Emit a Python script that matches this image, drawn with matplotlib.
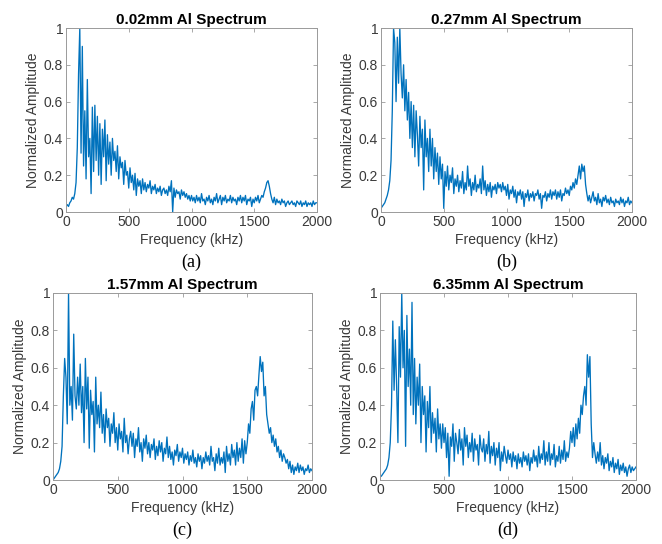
import numpy as np
import matplotlib
matplotlib.use("Agg")
import matplotlib.pyplot as plt

# frequency grid, kHz
freq_khz = np.arange(0, 2001, 10)

# normalized amplitude (one value per 10 kHz)
amp_002mm = [
    0.03, 0.04, 0.03, 0.05, 0.06, 0.08, 0.07, 0.10, 0.16, 0.35,
    0.75, 1.00, 0.32, 0.90, 0.25, 0.55, 0.18, 0.72, 0.30, 0.40,
    0.10, 0.57, 0.22, 0.58, 0.28, 0.52, 0.20, 0.48, 0.15, 0.45,
    0.30, 0.50, 0.17, 0.42, 0.26, 0.38, 0.20, 0.40, 0.28, 0.33,
    0.22, 0.36, 0.18, 0.30, 0.24, 0.27, 0.15, 0.28, 0.20, 0.22,
    0.13, 0.24, 0.16, 0.20, 0.12, 0.21, 0.09, 0.18, 0.14, 0.17,
    0.10, 0.18, 0.12, 0.16, 0.11, 0.15, 0.13, 0.17, 0.10, 0.14,
    0.12, 0.15, 0.10, 0.13, 0.11, 0.14, 0.09, 0.12, 0.13, 0.10,
    0.12, 0.09, 0.14, 0.11, 0.17, 0.00, 0.13, 0.08, 0.12, 0.10,
    0.11, 0.07, 0.12, 0.09, 0.11, 0.08, 0.10, 0.07, 0.09, 0.06,
    0.09, 0.06, 0.08, 0.05, 0.09, 0.06, 0.08, 0.05, 0.10, 0.06,
    0.07, 0.04, 0.08, 0.06, 0.09, 0.05, 0.07, 0.04, 0.08, 0.06,
    0.10, 0.05, 0.07, 0.09, 0.04, 0.08, 0.06, 0.09, 0.05, 0.07,
    0.06, 0.09, 0.05, 0.08, 0.06, 0.07, 0.04, 0.08, 0.06, 0.09,
    0.05, 0.08, 0.06, 0.09, 0.04, 0.07, 0.06, 0.08, 0.03, 0.07,
    0.05, 0.08, 0.06, 0.09, 0.05, 0.07, 0.09, 0.08, 0.11, 0.13,
    0.16, 0.17, 0.14, 0.10, 0.07, 0.05, 0.08, 0.04, 0.07, 0.05,
    0.06, 0.04, 0.07, 0.05, 0.06, 0.03, 0.05, 0.06, 0.04, 0.05,
    0.06, 0.04, 0.05, 0.03, 0.06, 0.05, 0.04, 0.06, 0.03, 0.05,
    0.04, 0.06, 0.03, 0.05, 0.04, 0.05, 0.03, 0.06, 0.04, 0.05,
    0.05,
]

amp_027mm = [
    0.02, 0.03, 0.04, 0.05, 0.07, 0.09, 0.12, 0.17, 0.28, 0.55,
    1.00, 0.92, 0.60, 0.95, 0.70, 1.00, 0.75, 0.62, 0.80, 0.55,
    0.72, 0.50, 0.65, 0.40, 0.60, 0.35, 0.58, 0.30, 0.55, 0.42,
    0.25, 0.52, 0.35, 0.45, 0.12, 0.50, 0.30, 0.40, 0.22, 0.45,
    0.25, 0.40, 0.18, 0.35, 0.22, 0.32, 0.15, 0.30, 0.18, 0.26,
    0.02, 0.22, 0.14, 0.25, 0.12, 0.20, 0.16, 0.24, 0.10, 0.18,
    0.14, 0.20, 0.11, 0.17, 0.13, 0.22, 0.10, 0.16, 0.12, 0.25,
    0.14, 0.18, 0.09, 0.16, 0.12, 0.20, 0.11, 0.15, 0.13, 0.18,
    0.10, 0.25, 0.12, 0.17, 0.09, 0.15, 0.11, 0.16, 0.08, 0.14,
    0.12, 0.15, 0.10, 0.16, 0.13, 0.15, 0.11, 0.16, 0.12, 0.14,
    0.09, 0.15, 0.07, 0.12, 0.10, 0.14, 0.08, 0.12, 0.05, 0.11,
    0.09, 0.12, 0.07, 0.11, 0.03, 0.10, 0.08, 0.12, 0.06, 0.10,
    0.08, 0.11, 0.06, 0.10, 0.09, 0.12, 0.07, 0.10, 0.02, 0.09,
    0.08, 0.11, 0.06, 0.10, 0.08, 0.12, 0.07, 0.11, 0.09, 0.12,
    0.07, 0.11, 0.08, 0.12, 0.06, 0.10, 0.09, 0.13, 0.10, 0.12,
    0.09, 0.14, 0.12, 0.16, 0.13, 0.18, 0.15, 0.20, 0.25, 0.18,
    0.26, 0.22, 0.25, 0.15, 0.10, 0.06, 0.09, 0.05, 0.08, 0.11,
    0.06, 0.08, 0.04, 0.10, 0.05, 0.07, 0.03, 0.08, 0.06, 0.09,
    0.05, 0.07, 0.04, 0.08, 0.05, 0.06, 0.03, 0.07, 0.05, 0.06,
    0.04, 0.08, 0.05, 0.07, 0.03, 0.06, 0.05, 0.08, 0.04, 0.06,
    0.05,
]

amp_157mm = [
    0.00, 0.01, 0.02, 0.03, 0.04, 0.06, 0.10, 0.18, 0.45, 0.65,
    0.55, 0.30, 1.00, 0.40, 0.50, 0.32, 0.78, 0.45, 0.38, 0.55,
    0.40, 0.62, 0.36, 0.50, 0.20, 0.65, 0.38, 0.55, 0.17, 0.48,
    0.35, 0.42, 0.15, 0.55, 0.30, 0.40, 0.28, 0.47, 0.25, 0.35,
    0.20, 0.38, 0.28, 0.33, 0.18, 0.30, 0.25, 0.36, 0.20, 0.28,
    0.16, 0.30, 0.22, 0.26, 0.15, 0.33, 0.20, 0.24, 0.14, 0.22,
    0.26, 0.18, 0.25, 0.12, 0.22, 0.18, 0.28, 0.15, 0.20, 0.10,
    0.22, 0.17, 0.24, 0.14, 0.20, 0.12, 0.19, 0.16, 0.22, 0.11,
    0.18, 0.13, 0.21, 0.15, 0.20, 0.10, 0.17, 0.14, 0.23, 0.12,
    0.18, 0.11, 0.15, 0.08, 0.16, 0.13, 0.19, 0.10, 0.15, 0.12,
    0.17, 0.09, 0.14, 0.11, 0.15, 0.08, 0.13, 0.10, 0.16, 0.09,
    0.12, 0.07, 0.14, 0.10, 0.13, 0.06, 0.12, 0.09, 0.15, 0.10,
    0.13, 0.08, 0.18, 0.10, 0.12, 0.05, 0.14, 0.09, 0.17, 0.08,
    0.12, 0.09, 0.15, 0.04, 0.18, 0.10, 0.14, 0.08, 0.19, 0.12,
    0.16, 0.08, 0.20, 0.10, 0.17, 0.12, 0.22, 0.09, 0.21, 0.14,
    0.20, 0.30, 0.25, 0.38, 0.42, 0.32, 0.48, 0.50, 0.45, 0.56,
    0.66, 0.58, 0.63, 0.45, 0.50, 0.35, 0.30, 0.25, 0.28, 0.20,
    0.24, 0.18, 0.22, 0.15, 0.18, 0.12, 0.16, 0.10, 0.14, 0.12,
    0.09, 0.11, 0.06, 0.10, 0.04, 0.08, 0.03, 0.07, 0.05, 0.09,
    0.04, 0.08, 0.05, 0.07, 0.03, 0.06, 0.05, 0.08, 0.04, 0.06,
    0.05,
]

amp_635mm = [
    0.02, 0.02, 0.03, 0.04, 0.05, 0.06, 0.08, 0.12, 0.20, 0.40,
    0.85, 0.48, 0.75, 0.50, 0.20, 0.82, 0.55, 1.00, 0.60, 0.80,
    0.18, 0.88, 0.50, 0.70, 0.40, 0.95, 0.35, 0.65, 0.30, 0.55,
    0.40, 0.62, 0.20, 0.50, 0.35, 0.45, 0.15, 0.42, 0.28, 0.50,
    0.20, 0.36, 0.25, 0.33, 0.15, 0.38, 0.22, 0.30, 0.17, 0.30,
    0.20, 0.28, 0.12, 0.25, 0.02, 0.23, 0.18, 0.30, 0.10, 0.25,
    0.20, 0.14, 0.27, 0.16, 0.22, 0.08, 0.28, 0.18, 0.24, 0.12,
    0.20, 0.15, 0.25, 0.10, 0.22, 0.16, 0.19, 0.08, 0.24, 0.17,
    0.15, 0.22, 0.10, 0.19, 0.14, 0.26, 0.09, 0.18, 0.13, 0.20,
    0.08, 0.17, 0.12, 0.20, 0.05, 0.15, 0.10, 0.18, 0.13, 0.09,
    0.16, 0.11, 0.14, 0.07, 0.15, 0.10, 0.13, 0.06, 0.14, 0.09,
    0.12, 0.07, 0.15, 0.10, 0.13, 0.08, 0.14, 0.05, 0.12, 0.09,
    0.16, 0.10, 0.13, 0.07, 0.18, 0.09, 0.14, 0.11, 0.21, 0.08,
    0.15, 0.10, 0.20, 0.08, 0.14, 0.11, 0.19, 0.07, 0.13, 0.10,
    0.18, 0.09, 0.16, 0.11, 0.21, 0.10, 0.15, 0.12, 0.17, 0.26,
    0.20, 0.28, 0.18, 0.30, 0.22, 0.33, 0.25, 0.40, 0.35, 0.45,
    0.50, 0.40, 0.67, 0.55, 0.66, 0.30, 0.12, 0.20, 0.14, 0.09,
    0.15, 0.10, 0.20, 0.08, 0.13, 0.06, 0.12, 0.09, 0.14, 0.05,
    0.10, 0.07, 0.12, 0.04, 0.09, 0.06, 0.11, 0.03, 0.08, 0.05,
    0.09, 0.04, 0.07, 0.02, 0.06, 0.08, 0.04, 0.07, 0.05, 0.06,
    0.07,
]

titles = ["0.02mm Al Spectrum", "0.27mm Al Spectrum",
          "1.57mm Al Spectrum", "6.35mm Al Spectrum"]
captions = ["(a)", "(b)", "(c)", "(d)"]
series = [amp_002mm, amp_027mm, amp_157mm, amp_635mm]
x_ticks = [0, 500, 1000, 1500, 2000]
y_ticks = [0, 0.2, 0.4, 0.6, 0.8, 1]
y_ticklabels = ["0", "0.2", "0.4", "0.6", "0.8", "1"]

W, H = 662, 544
# axes boxes in pixels: left, right, top, bottom
boxes = [(66, 317, 28, 212), (381, 632, 28, 212),
         (53, 312, 293, 480), (380, 636, 293, 480)]

plt.rcParams["font.family"] = ["Liberation Sans", "DejaVu Sans"]
LINE = "#0072BD"
TXT = "#3a3a3a"
SPINE = "#9a9a9a"

fig = plt.figure(figsize=(W / 100, H / 100), dpi=100)

for (l, r, t, b), amp, title, cap in zip(boxes, series, titles, captions):
    ax = fig.add_axes([l / W, 1 - b / H, (r - l) / W, (b - t) / H])
    ax.plot(freq_khz, amp, color=LINE, lw=0.95)
    ax.set_xlim(0, 2000)
    ax.set_ylim(0, 1)
    ax.set_xticks(x_ticks)
    ax.set_yticks(y_ticks)
    ax.set_yticklabels(y_ticklabels)
    ax.tick_params(direction="in", length=3, width=0.6, colors=SPINE,
                   labelcolor=TXT, labelsize=10, top=True, right=True, pad=2)
    for s in ax.spines.values():
        s.set_color(SPINE)
        s.set_linewidth(0.7)
    ax.set_title(title, fontsize=11, fontweight="bold", pad=3)
    ax.set_xlabel("Frequency (kHz)", fontsize=10, color=TXT, labelpad=3)
    ax.set_ylabel("Normalized Amplitude", fontsize=10, color=TXT, labelpad=3)
    fig.text((l + r) / 2 / W, 1 - (b + 50) / H, cap, ha="center", va="center",
             fontsize=13, family="Liberation Serif")

fig.savefig("out.png", dpi=100)
